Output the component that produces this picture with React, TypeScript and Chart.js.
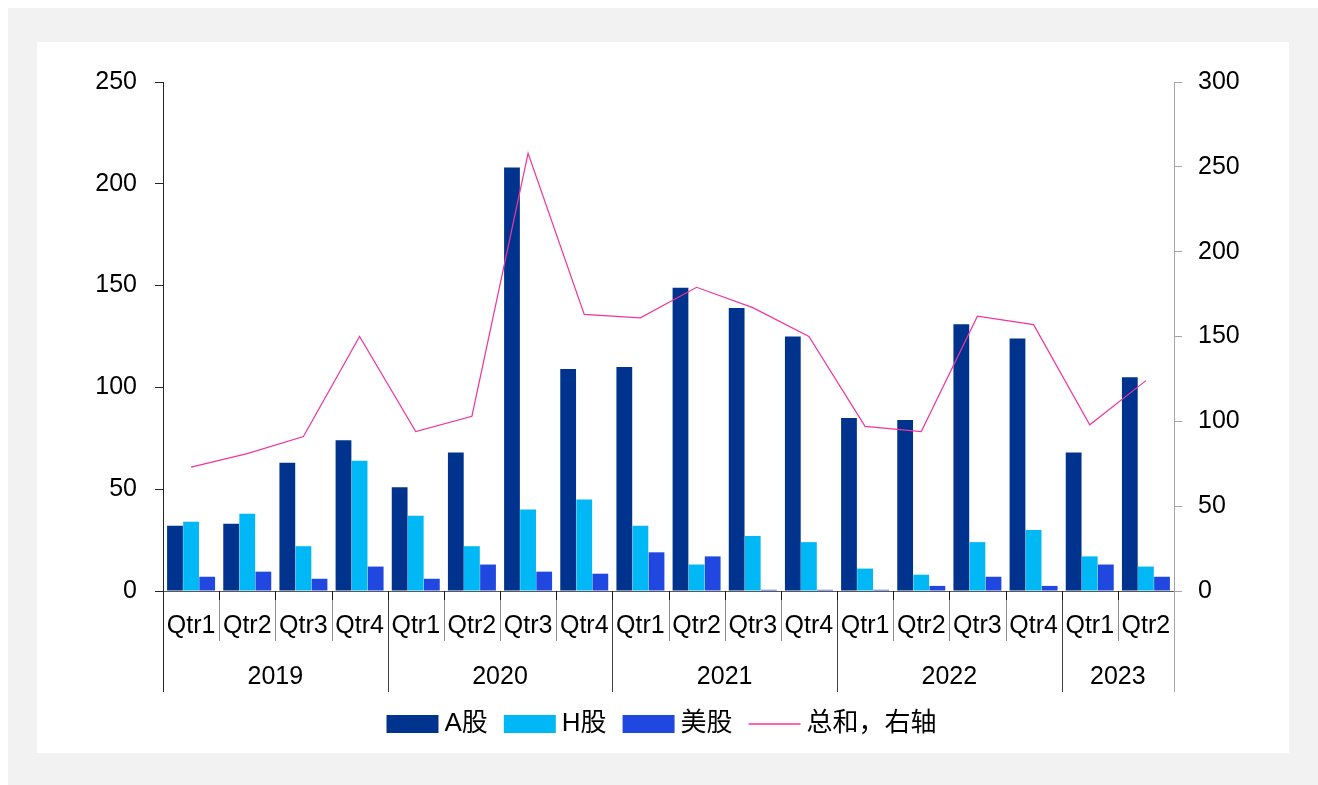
import React, { useEffect, useRef } from 'react';
import { Chart, registerables } from 'chart.js';

Chart.register(...registerables);

const QUARTERS = [
  'Qtr1', 'Qtr2', 'Qtr3', 'Qtr4',
  'Qtr1', 'Qtr2', 'Qtr3', 'Qtr4',
  'Qtr1', 'Qtr2', 'Qtr3', 'Qtr4',
  'Qtr1', 'Qtr2', 'Qtr3', 'Qtr4',
  'Qtr1', 'Qtr2',
];
const YEARS = ['2019', '2020', '2021', '2022', '2023'];
const YEAR_SIZES = [4, 4, 4, 4, 2];

const A_SHARES = [32, 33, 63, 74, 51, 68, 208, 109, 110, 149, 139, 125, 85, 84, 131, 124, 68, 105];
const H_SHARES = [34, 38, 22, 64, 37, 22, 40, 45, 32, 13, 27, 24, 11, 8, 24, 30, 17, 12];
const US_SHARES = [7, 9.5, 6, 12, 6, 13, 9.5, 8.5, 19, 17, 0.6, 0.6, 0.6, 2.5, 7, 2.5, 13, 7];
const TOTAL = [73, 81, 91, 150, 94, 103, 258, 163, 161, 179, 167, 150, 97, 94, 162, 157, 98, 124];

const LEFT_MAX = 250;
const RIGHT_MAX = 300;
const TICK_STEP = 50;

const SERIES_NAMES = ['A股', 'H股', '美股', '总和，右轴'];
const COLORS = ['#00338d', '#00b8f5', '#2048e0', '#f0359c'];

const FONT_FAMILY = "'Liberation Sans', 'Noto Sans CJK SC', sans-serif";

function yearCenters(): number[] {
  const res: number[] = [];
  let start = 0;
  for (const n of YEAR_SIZES) {
    res.push(start + (n - 1) / 2);
    start += n;
  }
  return res;
}

function yearBoundaries(): Set<number> {
  const s = new Set<number>([0]);
  let c = 0;
  for (const n of YEAR_SIZES) {
    c += n;
    s.add(c);
  }
  return s;
}

const separatorPlugin = {
  id: 'separators',
  afterDraw(chart: any) {
    const x = chart.scales.x;
    const x2 = chart.scales.x2;
    const ctx = chart.ctx;
    const top = chart.chartArea.bottom;
    const yb = yearBoundaries();
    const half = (x.getPixelForValue(1) - x.getPixelForValue(0)) / 2;
    ctx.save();
    ctx.lineWidth = 1;
    for (let i = 0; i <= QUARTERS.length; i++) {
      const px = Math.round(x.getPixelForValue(i) - half) + 0.5;
      const isYear = yb.has(i);
      const bottom = isYear ? x2.bottom : x.bottom;
      if (i === 0 || i === QUARTERS.length) {
        ctx.strokeStyle = i === 0 ? '#262626' : '#a6a6a6';
        ctx.beginPath();
        ctx.moveTo(px, top);
        ctx.lineTo(px, bottom);
        ctx.stroke();
        continue;
      }
      ctx.strokeStyle = '#1a1a1a';
      ctx.beginPath();
      ctx.moveTo(px, top);
      ctx.lineTo(px, top + 9);
      ctx.stroke();
      ctx.strokeStyle = isYear ? '#404040' : '#8c8c8c';
      ctx.beginPath();
      ctx.moveTo(px, top + 9);
      ctx.lineTo(px, bottom);
      ctx.stroke();
    }
    ctx.restore();
  },
};

function makeSwatch(color: string, isLine: boolean): HTMLCanvasElement {
  const c = document.createElement('canvas');
  c.width = 58;
  c.height = 18;
  const g = c.getContext('2d')!;
  if (isLine) {
    g.strokeStyle = '#ff66b2';
    g.lineWidth = 2;
    g.beginPath();
    g.moveTo(5, 9);
    g.lineTo(57, 9);
    g.stroke();
  } else {
    g.fillStyle = color;
    g.fillRect(5, 0, 52, 18);
  }
  return c;
}

export default function App() {
  const canvasRef = useRef<HTMLCanvasElement | null>(null);

  useEffect(() => {
    if (!canvasRef.current) return;
    const swatches = COLORS.map((c, i) => makeSwatch(c, i === 3));
    const centers = yearCenters();

    const chart = new Chart(canvasRef.current, {
      type: 'bar',
      data: {
        labels: QUARTERS,
        datasets: [
          {
            type: 'line',
            label: SERIES_NAMES[3],
            data: TOTAL,
            borderColor: COLORS[3],
            backgroundColor: COLORS[3],
            borderWidth: 1.2,
            pointRadius: 0,
            tension: 0,
            yAxisID: 'y1',
            order: 0,
          } as any,
          {
            label: SERIES_NAMES[0],
            data: A_SHARES,
            backgroundColor: COLORS[0],
            yAxisID: 'y',
            categoryPercentage: 0.86,
            barPercentage: 0.98,
            order: 1,
          },
          {
            label: SERIES_NAMES[1],
            data: H_SHARES,
            backgroundColor: COLORS[1],
            yAxisID: 'y',
            categoryPercentage: 0.86,
            barPercentage: 0.98,
            order: 1,
          },
          {
            label: SERIES_NAMES[2],
            data: US_SHARES,
            backgroundColor: COLORS[2],
            yAxisID: 'y',
            categoryPercentage: 0.86,
            barPercentage: 0.98,
            order: 1,
          },
        ],
      },
      options: {
        responsive: false,
        animation: false,
        devicePixelRatio: 1,
        layout: { padding: { top: 40, left: 0, right: 0, bottom: 5 } },
        plugins: {
          tooltip: { enabled: false },
          legend: {
            position: 'bottom',
            labels: {
              usePointStyle: true,
              pointStyleWidth: 42,
              boxHeight: 18,
              padding: 19,
              color: '#000',
              font: { family: FONT_FAMILY, size: 26 },
              generateLabels: (ch: any) => {
                const order = [1, 2, 3, 0];
                return order.map((di, k) => ({
                  text: ch.data.datasets[di].label,
                  fillStyle: COLORS[k],
                  strokeStyle: COLORS[k],
                  lineWidth: 0,
                  hidden: false,
                  datasetIndex: di,
                  pointStyle: swatches[k],
                  fontColor: '#000',
                }));
              },
            },
          },
        },
        scales: {
          x: {
            type: 'category',
            position: 'bottom',
            weight: 0,
            offset: true,
            grid: { display: false, drawTicks: false },
            border: { display: true, color: '#595959', width: 1 },
            ticks: {
              padding: 20,
              color: '#000',
              autoSkip: false,
              maxRotation: 0,
              font: { family: FONT_FAMILY, size: 25 },
            },
            afterFit: (s: any) => { s.height = 50; },
          },
          x2: {
            type: 'linear',
            position: 'bottom',
            weight: 1,
            offset: false,
            min: -0.5,
            max: QUARTERS.length - 0.5,
            grid: { display: false, drawTicks: false, offset: false },
            border: { display: false },
            afterBuildTicks: (s: any) => {
              s.ticks = centers.map((v) => ({ value: v }));
            },
            ticks: {
              padding: 21,
              color: '#000',
              autoSkip: false,
              maxRotation: 0,
              font: { family: FONT_FAMILY, size: 25 },
              callback: (_v: any, i: number) => YEARS[i],
            },
            afterFit: (s: any) => { s.height = 51; },
          },
          y: {
            type: 'linear',
            position: 'left',
            min: 0,
            max: LEFT_MAX,
            grid: { drawOnChartArea: false, drawTicks: true, tickLength: 8, color: '#262626' },
            border: { display: true, color: '#262626', width: 1 },
            ticks: {
              stepSize: TICK_STEP,
              padding: 18,
              color: '#000',
              font: { family: FONT_FAMILY, size: 25 },
            },
            afterFit: (s: any) => { s.width = 126; },
          },
          y1: {
            type: 'linear',
            position: 'right',
            min: 0,
            max: RIGHT_MAX,
            grid: { drawOnChartArea: false, drawTicks: true, tickLength: 8, color: '#a6a6a6' },
            border: { display: true, color: '#a6a6a6', width: 1 },
            ticks: {
              stepSize: TICK_STEP,
              padding: 16,
              color: '#000',
              font: { family: FONT_FAMILY, size: 25 },
            },
            afterFit: (s: any) => { s.width = 115; },
          },
        },
      } as any,
      plugins: [separatorPlugin],
    });

    return () => chart.destroy();
  }, []);

  return (
    <div
      style={{
        position: 'fixed',
        left: 8,
        top: 8,
        right: 0,
        bottom: 0,
        background: '#f2f2f2',
      }}
    >
      <div
        style={{
          position: 'absolute',
          left: 29,
          top: 34,
          width: 1252,
          height: 711,
          background: '#ffffff',
        }}
      >
        <canvas ref={canvasRef} width={1252} height={710} style={{ display: 'block' }} />
      </div>
    </div>
  );
}
